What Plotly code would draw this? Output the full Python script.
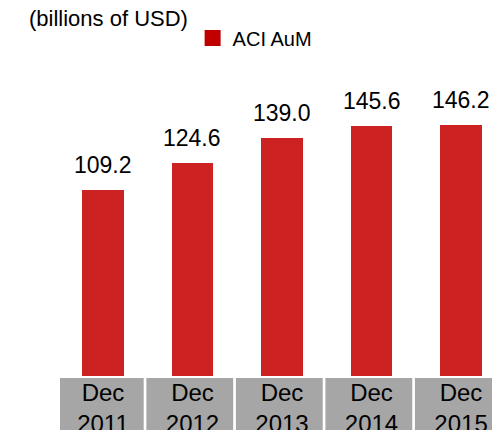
import plotly.graph_objects as go

periods = ["Dec<br>2011", "Dec<br>2012", "Dec<br>2013", "Dec<br>2014", "Dec<br>2015"]
aum = [109.2, 124.6, 139.0, 145.6, 146.2]
series_name = "ACI AuM"
unit_note = "(billions of USD)"

FONT = "Arial, Liberation Sans, sans-serif"
BAR_RED = "#cc2222"
LEGEND_RED = "#c00000"
BOX_GREY = "#a6a6a6"

fig = go.Figure()

fig.add_trace(
    go.Bar(
        x=list(range(len(periods))),
        y=aum,
        width=0.46,
        marker=dict(color=BAR_RED, line=dict(width=0)),
        showlegend=False,
        hoverinfo="x+y",
    )
)

# legend entry (square swatch)
fig.add_trace(
    go.Scatter(
        x=[None],
        y=[None],
        mode="markers",
        name=series_name,
        marker=dict(symbol="square", size=16, color=LEGEND_RED),
    )
)

# value labels above each bar
for i, v in enumerate(aum):
    fig.add_annotation(
        x=i, y=v, text="%.1f" % v, showarrow=False,
        yanchor="bottom", yshift=10,
        font=dict(family=FONT, size=23, color="#000000"),
    )

# grey category boxes behind the tick labels
for i in range(len(periods)):
    fig.add_shape(
        type="rect", xref="x", yref="paper",
        x0=i - 0.515, x1=i + 0.455, y0=-0.0063, y1=-0.3,
        fillcolor=BOX_GREY, line=dict(width=0), layer="below",
    )

fig.add_annotation(
    x=-0.076, y=1.13, xref="paper", yref="paper",
    text=unit_note, showarrow=False, xanchor="left", yanchor="middle",
    font=dict(family=FONT, size=22, color="#000000"),
)

fig.update_xaxes(
    range=[-0.48, 4.346],
    tickmode="array",
    tickvals=list(range(len(periods))),
    ticktext=periods,
    tickfont=dict(family=FONT, size=24, color="#000000"),
    ticks="", ticklabelstandoff=0,
    showgrid=False, zeroline=False, showline=False,
    automargin=False,
)
fig.update_yaxes(
    range=[3.41, 183.3],
    visible=False,
    showgrid=False, zeroline=False,
    automargin=False,
)

fig.update_layout(
    width=492,
    height=430,
    margin=dict(t=60, b=54, l=60, r=0, autoexpand=False),
    paper_bgcolor="white",
    plot_bgcolor="white",
    font=dict(family=FONT, color="#000000"),
    legend=dict(
        x=0.307, y=1.0696, xanchor="left", yanchor="middle",
        font=dict(family=FONT, size=20, color="#000000"),
        bgcolor="rgba(0,0,0,0)", itemsizing="trace",
    ),
    bargap=0,
)

fig.write_html(
    "out.html",
    config={"displayModeBar": False},
    post_script="document.body.style.margin='0';document.body.style.overflow='hidden';",
)
